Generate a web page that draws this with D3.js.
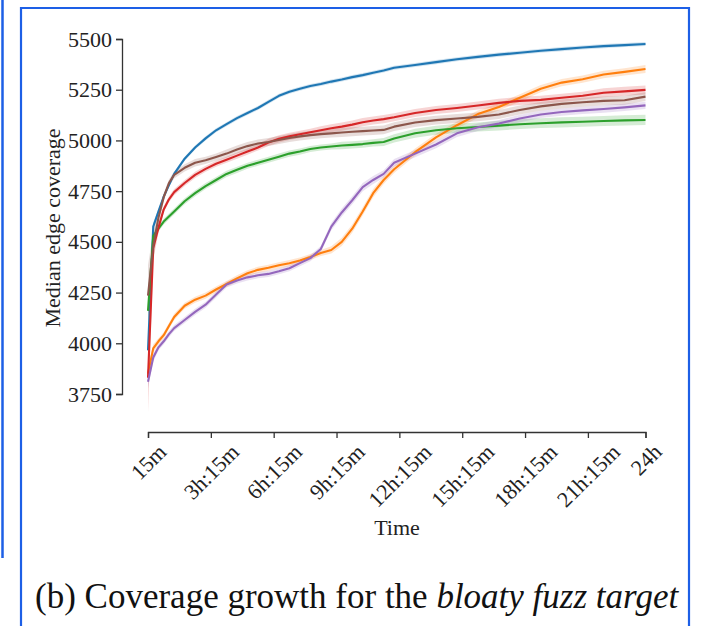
<!DOCTYPE html>
<html>
<head>
<meta charset="utf-8">
<script src="https://cdn.jsdelivr.net/npm/d3@7"></script>
<style>
  html, body { margin: 0; padding: 0; background: #fff; }
  svg { display: block; }
</style>
</head>
<body>
<script>
// Sampling times in hours since the start of the campaign
const hours = [0.25, 0.5, 0.75, 1, 1.25, 1.5, 2, 2.5, 3, 3.5, 4, 4.5, 5, 5.5, 6, 6.5, 7, 7.5, 8, 8.5,
  9, 9.5, 10, 10.5, 11, 11.5, 12, 13, 14, 15, 16, 17, 18, 19, 20, 21, 22, 23, 24];

// Median edge coverage per fuzzer configuration
const blueSeries = [3965, 4575, 4650, 4723, 4780, 4835, 4910, 4965, 5010, 5050, 5080, 5110, 5135, 5160, 5190, 5220,
  5240, 5255, 5268, 5278, 5290, 5300, 5312, 5322, 5334, 5345, 5358, 5372, 5386, 5400, 5412, 5423, 5432, 5442, 5450,
  5458, 5465, 5470, 5475];
const orangeSeries = [3850, 3975, 4010, 4040, 4085, 4130, 4185, 4215, 4235, 4265, 4292, 4320, 4345, 4362, 4372, 4385,
  4395, 4408, 4425, 4445, 4460, 4500, 4565, 4650, 4740, 4805, 4858, 4942, 5015, 5075, 5130, 5165, 5210, 5255, 5285,
  5302, 5325, 5338, 5352];
const greenSeries = [4160, 4530, 4565, 4600, 4625, 4650, 4700, 4740, 4775, 4805, 4835, 4855, 4875, 4890, 4905, 4920,
  4935, 4945, 4958, 4965, 4970, 4975, 4978, 4982, 4988, 4992, 5010, 5035, 5050, 5060, 5066, 5073, 5080, 5085, 5089,
  5092, 5096, 5099, 5101];
const redSeries = [3830, 4470, 4570, 4660, 4710, 4745, 4790, 4830, 4860, 4885, 4905, 4925, 4945, 4965, 4990, 5008,
  5020, 5030, 5040, 5050, 5060, 5068, 5078, 5090, 5098, 5105, 5114, 5135, 5150, 5160, 5172, 5185, 5195, 5200, 5210,
  5220, 5235, 5242, 5249];
const purpleSeries = [3810, 3930, 3980, 4010, 4045, 4075, 4115, 4155, 4190, 4240, 4290, 4310, 4325, 4335, 4342, 4355,
  4370, 4395, 4420, 4465, 4575, 4645, 4705, 4770, 4805, 4835, 4890, 4935, 4980, 5035, 5065, 5083, 5108, 5128, 5140,
  5148, 5155, 5163, 5173];
const brownSeries = [4235, 4480, 4620, 4720, 4790, 4830, 4865, 4890, 4902, 4918, 4935, 4955, 4972, 4985, 4992, 5002,
  5012, 5020, 5026, 5031, 5035, 5039, 5043, 5046, 5049, 5052, 5068, 5088, 5100, 5108, 5116, 5128, 5150, 5168, 5180,
  5188, 5195, 5198, 5216];

// Half-width of the confidence band around each median
const blueBand   = [40, 20, 12, 10, 10, 10, 10, 10, 10, 10, 10, 10, 10, 10, 10, 10, 10, 10, 10, 10, 10, 10, 10, 10, 10, 10, 10, 10, 10, 10, 10, 10, 10, 10, 10, 10, 10, 10, 10];
const orangeBand = [40, 20, 15, 15, 15, 15, 15, 15, 15, 15, 15, 15, 15, 15, 15, 15, 15, 15, 15, 15, 18, 20, 20, 20, 20, 20, 18, 18, 18, 18, 18, 18, 18, 18, 18, 18, 18, 18, 20];
const greenBand  = [40, 20, 15, 15, 15, 15, 15, 15, 15, 15, 15, 15, 15, 15, 15, 15, 15, 15, 15, 15, 15, 18, 18, 18, 18, 20, 20, 22, 22, 22, 22, 24, 24, 24, 25, 25, 25, 25, 25];
const redBand    = [170, 60, 25, 15, 15, 15, 15, 15, 15, 15, 15, 15, 15, 15, 18, 18, 18, 18, 18, 20, 20, 20, 20, 20, 20, 20, 20, 20, 20, 20, 20, 20, 20, 20, 20, 20, 22, 22, 22];
const purpleBand = [30, 20, 15, 15, 15, 15, 15, 15, 15, 15, 15, 15, 15, 15, 15, 15, 15, 15, 15, 15, 18, 20, 20, 20, 20, 18, 18, 18, 18, 18, 18, 18, 18, 18, 18, 18, 18, 18, 18];
const brownBand  = [150, 70, 30, 20, 18, 18, 18, 18, 18, 18, 20, 20, 20, 20, 20, 20, 20, 20, 20, 20, 20, 22, 22, 22, 22, 22, 22, 22, 22, 22, 22, 22, 22, 22, 22, 22, 22, 22, 22];

const seriesList = [
  { values: blueSeries,   band: blueBand,   color: "#1f77b4" },
  { values: orangeSeries, band: orangeBand, color: "#ff7f0e" },
  { values: greenSeries,  band: greenBand,  color: "#2ca02c" },
  { values: redSeries,    band: redBand,    color: "#d62728" },
  { values: purpleSeries, band: purpleBand, color: "#9467bd" },
  { values: brownSeries,  band: brownBand,  color: "#8c564b" }
];

// Axis ticks
const xTickValues = [0.25, 3.25, 6.25, 9.25, 12.25, 15.25, 18.25, 21.25, 24];
const xTickLabels = ["15m", "3h:15m", "6h:15m", "9h:15m", "12h:15m", "15h:15m", "18h:15m", "21h:15m", "24h"];
const yTickValues = [3750, 4000, 4250, 4500, 4750, 5000, 5250, 5500];

const W = 707, H = 626;
const svg = d3.select("body").append("svg").attr("width", W).attr("height", H);

// Page frames
svg.append("line").attr("x1", 2.5).attr("x2", 2.5).attr("y1", 0).attr("y2", 558)
  .attr("stroke", "#1d5fe6").attr("stroke-width", 2.5);
svg.append("path").attr("d", `M21,${H + 5} L21,8 L689,8 L689,${H + 5}`)
  .attr("fill", "none").attr("stroke", "#1d5fe6").attr("stroke-width", 2.2);

const x = d3.scaleLinear().domain([0.25, 24]).range([148, 645.5]);
const y = d3.scaleLinear().domain([3750, 5500]).range([394, 39]);

const serif = "'Liberation Serif', 'DejaVu Serif', serif";
const labelSize = 22;

// Confidence bands, then median lines
const area = d3.area()
  .x((d, i) => x(hours[i]))
  .y0(d => y(d[0] - d[1]))
  .y1(d => y(d[0] + d[1]));
const line = d3.line()
  .x((d, i) => x(hours[i]))
  .y(d => y(d));

const plot = svg.append("g");
seriesList.forEach(s => {
  plot.append("path")
    .datum(s.values.map((v, i) => [v, s.band[i]]))
    .attr("d", area)
    .attr("fill", s.color)
    .attr("fill-opacity", 0.2);
});
seriesList.forEach(s => {
  plot.append("path")
    .datum(s.values)
    .attr("d", line)
    .attr("fill", "none")
    .attr("stroke", s.color)
    .attr("stroke-width", 2.1)
    .attr("stroke-linejoin", "round");
});

// Y axis (trimmed spine)
const yAxis = svg.append("g")
  .attr("transform", "translate(122,0)")
  .call(d3.axisLeft(y).tickValues(yTickValues).tickSize(6).tickPadding(4).tickFormat(d3.format("d")));
yAxis.attr("font-size", labelSize).attr("font-family", serif);
yAxis.selectAll("path.domain").attr("stroke", "#333").attr("stroke-width", 1.3);
yAxis.selectAll(".tick line").attr("stroke", "#333").attr("stroke-width", 1.3);
yAxis.selectAll(".tick text").attr("fill", "#222");

// X axis (trimmed spine), labels rotated and centred under each tick
const xAxis = svg.append("g")
  .attr("transform", "translate(0,432)")
  .call(d3.axisBottom(x).tickValues(xTickValues).tickSize(6)
    .tickFormat((d, i) => xTickLabels[i]));
xAxis.attr("font-size", labelSize).attr("font-family", serif);
xAxis.selectAll("path.domain").attr("stroke", "#333").attr("stroke-width", 1.3);
xAxis.selectAll(".tick line").attr("stroke", "#333").attr("stroke-width", 1.3);
xAxis.selectAll(".tick text")
  .attr("fill", "#222")
  .attr("text-anchor", "middle")
  .attr("dominant-baseline", "central")
  .attr("dy", null).attr("y", 0)
  .attr("transform", function () {
    const len = this.getComputedTextLength();
    const boxH = (len + labelSize * 0.9) * Math.SQRT1_2;
    return `translate(0,${9 + boxH / 2}) rotate(-45)`;
  });

// Axis titles
svg.append("text")
  .attr("transform", "translate(60,228) rotate(-90)")
  .attr("text-anchor", "middle")
  .attr("font-family", serif).attr("font-size", labelSize).attr("fill", "#222")
  .text("Median edge coverage");
svg.append("text")
  .attr("x", 397).attr("y", 535)
  .attr("text-anchor", "middle")
  .attr("font-family", serif).attr("font-size", labelSize).attr("fill", "#222")
  .text("Time");

// Caption
const cap = svg.append("text")
  .attr("x", 35).attr("y", 608)
  .attr("font-family", serif).attr("font-size", 35).attr("fill", "#111");
cap.append("tspan").text("(b) Coverage growth for the ");
cap.append("tspan").attr("font-style", "italic").text("bloaty fuzz target");
</script>
</body>
</html>
